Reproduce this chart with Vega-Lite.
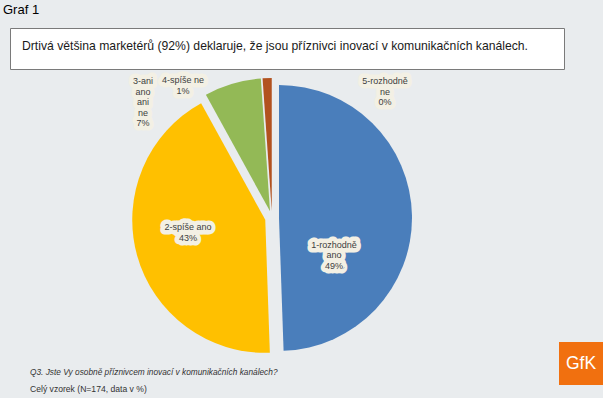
{
  "$schema": "https://vega.github.io/schema/vega-lite/v6.json",
  "background": "#e9ecee",
  "padding": {"left": 3, "top": 3, "right": 0, "bottom": 12},
  "title": {"text": "Graf 1", "anchor": "start", "frame": "group", "dx": -7, "offset": 11, "fontSize": 13, "font": "Liberation Sans", "fontWeight": "normal", "color": "#000000"},
  "config": {"view": {"stroke": null}, "title": {"fontWeight": "normal"}},
  "spacing": 6,
  "vconcat": [
    {
      "width": 554,
      "height": 41,
      "view": {"fill": "#ffffff", "stroke": "#7a7a7a", "strokeWidth": 1},
      "data": {"values": [{"t": "Drtivá většina marketérů (92%) deklaruje, že jsou příznivci inovací v komunikačních kanálech."}]},
      "mark": {"type": "text", "font": "Liberation Sans", "fontSize": 12.2, "color": "#1a1a1a", "align": "center", "baseline": "middle", "dx": -12, "dy": -3},
      "encoding": {"text": {"field": "t", "type": "nominal"}}
    },
    {
      "spacing": 25,
      "hconcat": [
        {
          "width": 524,
          "height": 284,
          "data": {"values": [
            {"odpoved": "1-rozhodně ano", "podil": 49.4, "popisek": "1-rozhodně\nano\n49%"},
            {"odpoved": "2-spíše ano", "podil": 42.5, "popisek": "2-spíše ano\n43%"},
            {"odpoved": "3-ani ano ani ne", "podil": 6.9, "popisek": "3-ani\nano\nani\nne\n7%"},
            {"odpoved": "4-spíše ne", "podil": 1.1, "popisek": "4-spíše ne\n1%"},
            {"odpoved": "5-rozhodně ne", "podil": 0.0, "popisek": "5-rozhodně\nne\n0%"}
          ]},
          "transform": [
            {"stack": "podil", "groupby": [], "sort": [{"field": "odpoved"}], "as": ["od", "do"]},
            {"joinaggregate": [{"op": "sum", "field": "podil", "as": "celkem"}]},
            {"calculate": "(datum.od + datum.do) / 2", "as": "stred"}
          ],
          "title": {
            "text": "Q3. Jste Vy osobně příznivcem inovací v komunikačních kanálech?",
            "subtitle": "Celý vzorek (N=174, data v %)",
            "orient": "bottom", "anchor": "start", "frame": "group", "dx": 20, "offset": 8,
            "font": "Liberation Sans", "fontSize": 8.3, "fontStyle": "italic", "fontWeight": "normal", "color": "#333333",
            "subtitleFont": "Liberation Sans", "subtitleFontSize": 8.6, "subtitleColor": "#333333", "subtitlePadding": 9
          },
          "layer": [
            {
              "mark": {"type": "arc", "radius": 133,
                "xOffset": {"expr": "7*sin(2*PI*datum.stred/datum.celkem)"},
                "yOffset": {"expr": "-7*cos(2*PI*datum.stred/datum.celkem)"}},
              "encoding": {
                "theta": {"field": "od", "type": "quantitative"},
                "theta2": {"field": "do"},
                "color": {"field": "odpoved", "type": "nominal", "legend": null,
                  "scale": {"domain": ["1-rozhodně ano", "2-spíše ano", "3-ani ano ani ne", "4-spíše ne", "5-rozhodně ne"],
                            "range": ["#4a7ebb", "#ffc000", "#93b956", "#b2521f", "#7f7f7f"]}}
              }
            },
            {
              "transform": [{"filter": "datum.odpoved === '1-rozhodně ano'"}],
              "encoding": {"theta": {"field": "stred", "type": "quantitative"}, "text": {"field": "popisek", "type": "nominal"}},
              "layer": [
                {"mark": {"type": "text", "radius": 70, "dx": -8, "dy": 28, "font": "Liberation Sans", "fontSize": 9, "lineBreak": "\n", "lineHeight": 10.5, "fill": "#f3f0e4", "stroke": "#f3f0e4", "strokeWidth": 9, "strokeJoin": "round"}},
                {"mark": {"type": "text", "radius": 70, "dx": -8, "dy": 28, "font": "Liberation Sans", "fontSize": 9, "lineBreak": "\n", "lineHeight": 10.5, "fill": "#404040"}}
              ]
            },
            {
              "transform": [{"filter": "datum.odpoved === '2-spíše ano'"}],
              "encoding": {"theta": {"field": "stred", "type": "quantitative"}, "text": {"field": "popisek", "type": "nominal"}},
              "layer": [
                {"mark": {"type": "text", "radius": 70, "dx": -16.5, "dy": -9.1, "font": "Liberation Sans", "fontSize": 9, "lineBreak": "\n", "lineHeight": 10.5, "fill": "#f3f0e4", "stroke": "#f3f0e4", "strokeWidth": 9, "strokeJoin": "round"}},
                {"mark": {"type": "text", "radius": 70, "dx": -16.5, "dy": -9.1, "font": "Liberation Sans", "fontSize": 9, "lineBreak": "\n", "lineHeight": 10.5, "fill": "#404040"}}
              ]
            },
            {
              "transform": [{"filter": "datum.odpoved === '3-ani ano ani ne'"}],
              "encoding": {"theta": {"field": "stred", "type": "quantitative"}, "text": {"field": "popisek", "type": "nominal"}},
              "layer": [
                {"mark": {"type": "text", "radius": 150, "dx": -86.7, "dy": 6.9, "font": "Liberation Sans", "fontSize": 9, "lineBreak": "\n", "lineHeight": 10.5, "fill": "#f3f0e4", "stroke": "#f3f0e4", "strokeWidth": 9, "strokeJoin": "round"}},
                {"mark": {"type": "text", "radius": 150, "dx": -86.7, "dy": 6.9, "font": "Liberation Sans", "fontSize": 9, "lineBreak": "\n", "lineHeight": 10.5, "fill": "#404040"}}
              ]
            },
            {
              "transform": [{"filter": "datum.odpoved === '4-spíše ne'"}],
              "encoding": {"theta": {"field": "stred", "type": "quantitative"}, "text": {"field": "popisek", "type": "nominal"}},
              "layer": [
                {"mark": {"type": "text", "radius": 150, "dx": -83.8, "dy": 12.4, "font": "Liberation Sans", "fontSize": 9, "lineBreak": "\n", "lineHeight": 10.5, "fill": "#f3f0e4", "stroke": "#f3f0e4", "strokeWidth": 9, "strokeJoin": "round"}},
                {"mark": {"type": "text", "radius": 150, "dx": -83.8, "dy": 12.4, "font": "Liberation Sans", "fontSize": 9, "lineBreak": "\n", "lineHeight": 10.5, "fill": "#404040"}}
              ]
            },
            {
              "transform": [{"filter": "datum.odpoved === '5-rozhodně ne'"}],
              "encoding": {"theta": {"field": "stred", "type": "quantitative"}, "text": {"field": "popisek", "type": "nominal"}},
              "layer": [
                {"mark": {"type": "text", "radius": 150, "dx": 113, "dy": 13, "font": "Liberation Sans", "fontSize": 9, "lineBreak": "\n", "lineHeight": 10.5, "fill": "#f3f0e4", "stroke": "#f3f0e4", "strokeWidth": 9, "strokeJoin": "round"}},
                {"mark": {"type": "text", "radius": 150, "dx": 113, "dy": 13, "font": "Liberation Sans", "fontSize": 9, "lineBreak": "\n", "lineHeight": 10.5, "fill": "#404040"}}
              ]
            }
          ]
        },
        {
          "spacing": 0,
          "vconcat": [
            {
              "width": 44,
              "height": 266,
              "data": {"values": [{"t": ""}]},
              "mark": {"type": "text"},
              "encoding": {"text": {"field": "t", "type": "nominal"}}
            },
            {
              "width": 44,
              "height": 43,
              "view": {"fill": "#f1700f", "stroke": null},
              "data": {"values": [{"t": "GfK"}]},
              "mark": {"type": "text", "font": "Liberation Sans", "fontSize": 17.5, "fill": "#ffffff", "align": "center", "baseline": "middle"},
              "encoding": {"text": {"field": "t", "type": "nominal"}}
            }
          ]
        }
      ]
    }
  ]
}
